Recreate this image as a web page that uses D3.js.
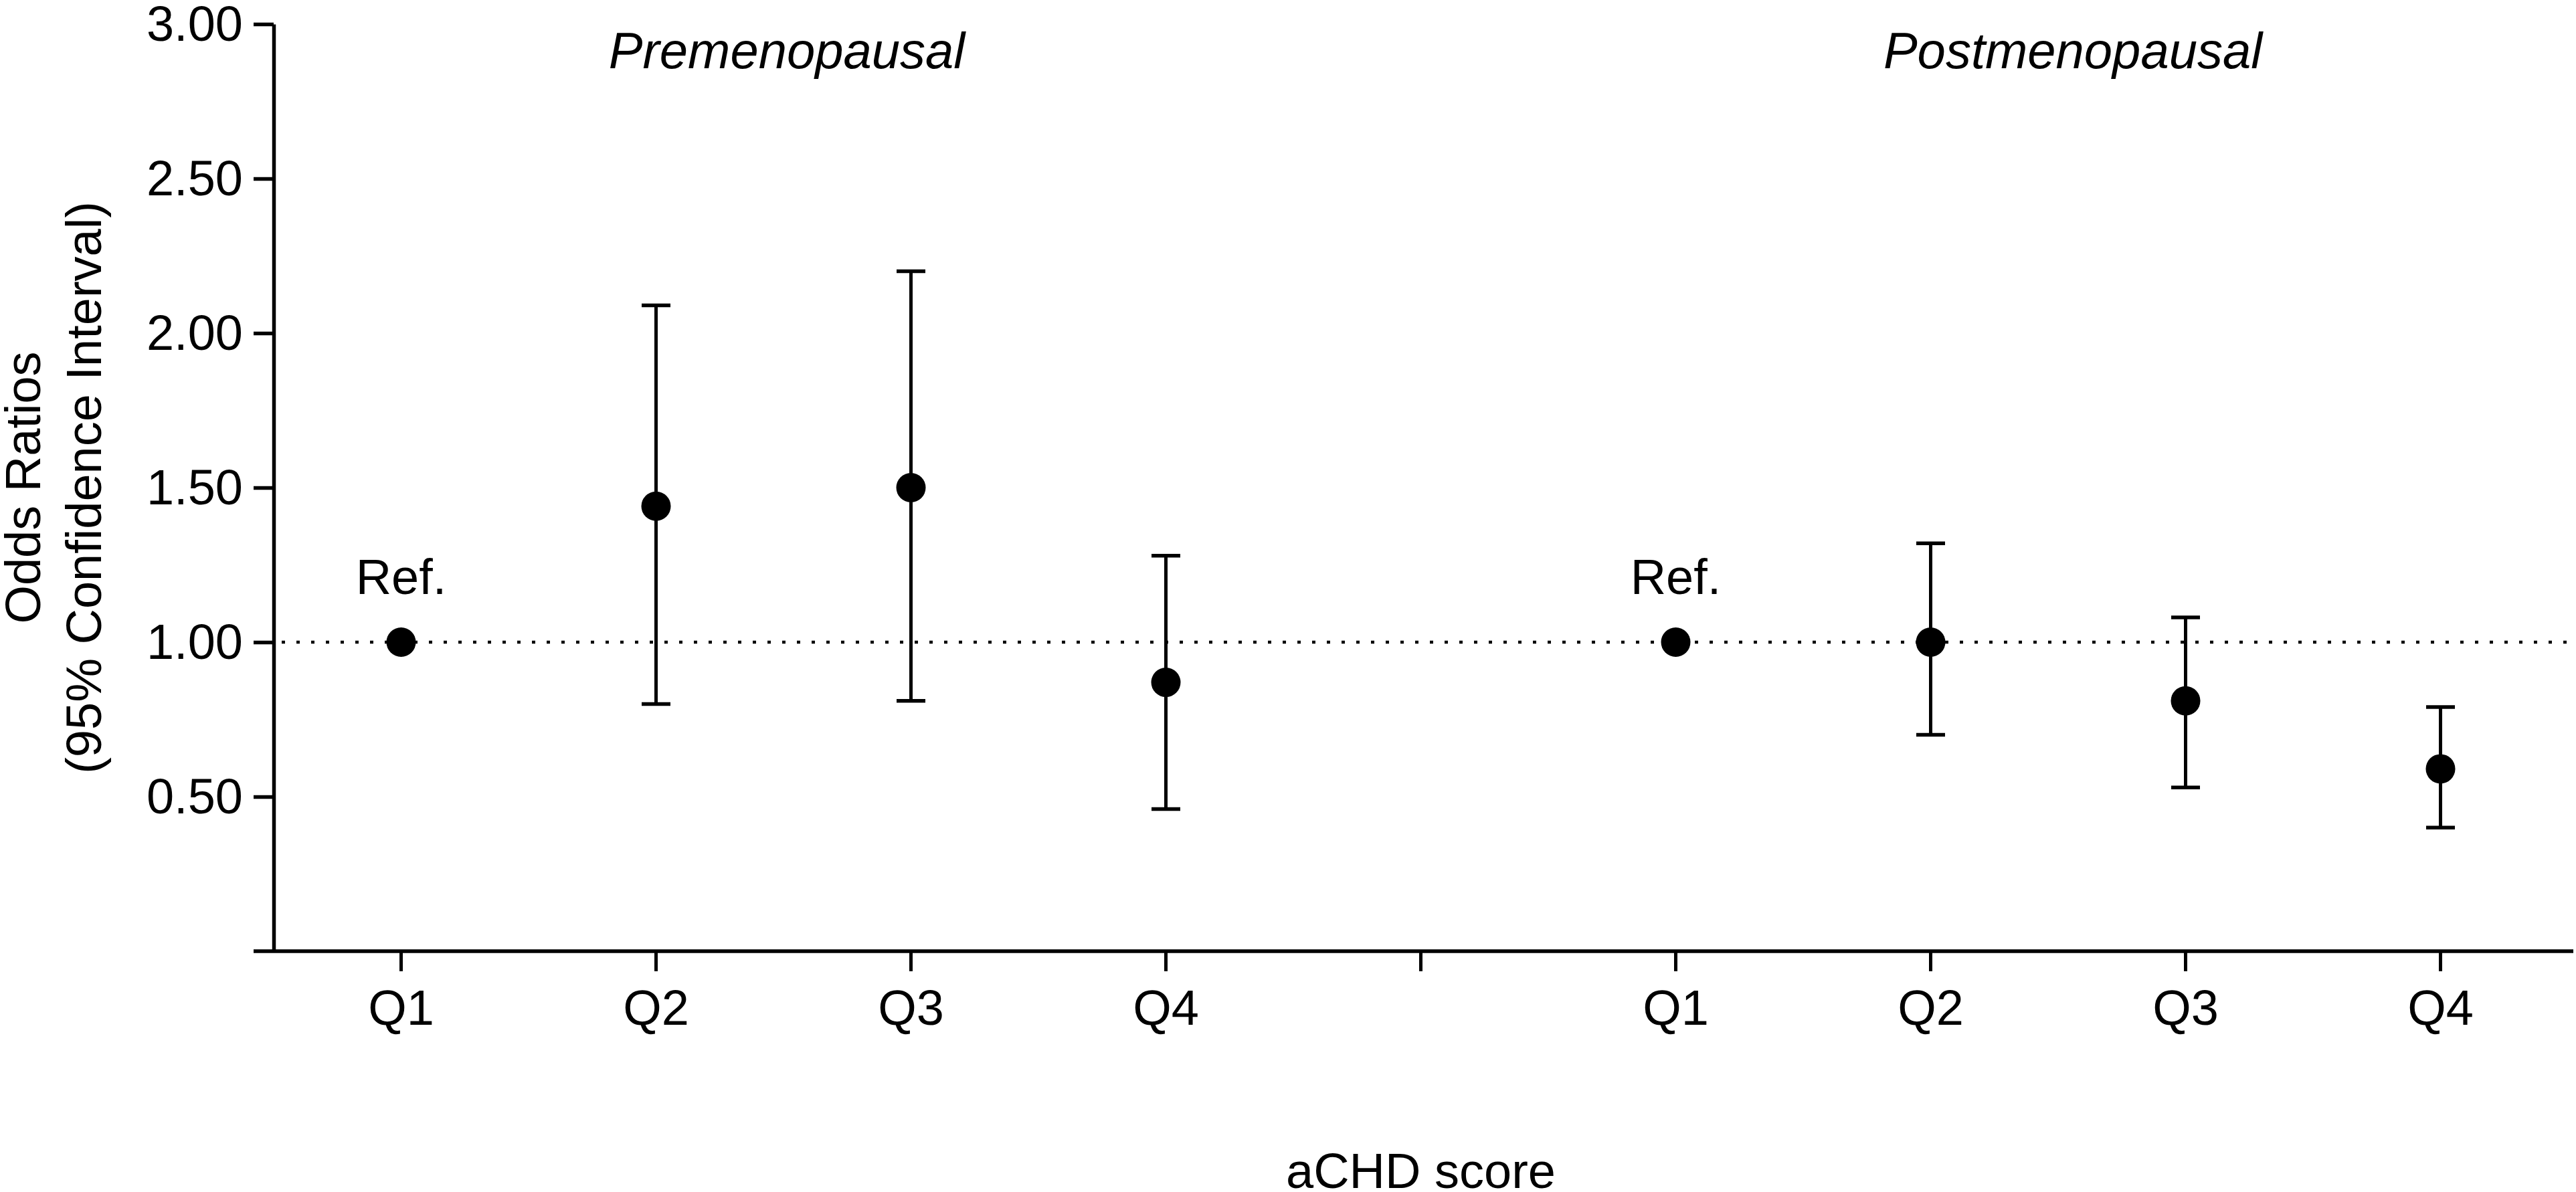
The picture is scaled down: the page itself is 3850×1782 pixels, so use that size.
<!DOCTYPE html>
<html>
<head>
<meta charset="utf-8">
<script src="https://cdn.jsdelivr.net/npm/d3@7"></script>
<style>
  body { margin: 0; background: #fff; }
  text { font-family: "Liberation Sans", Arial, sans-serif; fill: #000; }
</style>
</head>
<body>
<svg width="3850" height="1782"></svg>
<script>
var svg = d3.select("svg"),
    width = +svg.attr("width"),
    height = +svg.attr("height");

// data
var groups = ["Premenopausal", "Postmenopausal"];
var quartiles = ["Q1", "Q2", "Q3", "Q4"];
var preOR   = [1.00, 1.44, 1.50, 0.87];
var preLow  = [null, 0.80, 0.81, 0.46];
var preHigh = [null, 2.09, 2.20, 1.28];
var postOR   = [1.00, 1.00, 0.81, 0.59];
var postLow  = [null, 0.70, 0.53, 0.40];
var postHigh = [null, 1.32, 1.08, 0.79];
var yTicks = [0.5, 1.0, 1.5, 2.0, 2.5, 3.0];
var refValue = 1.0;

var points = [];
quartiles.forEach((q, i) => points.push({ key: "pre-" + q, label: q, or: preOR[i], lo: preLow[i], hi: preHigh[i] }));
quartiles.forEach((q, i) => points.push({ key: "post-" + q, label: q, or: postOR[i], lo: postLow[i], hi: postHigh[i] }));

// slots: 4 pre quartiles, an empty gap, 4 post quartiles
var slots = quartiles.map(q => "pre-" + q).concat(["gap"], quartiles.map(q => "post-" + q));

var x = d3.scaleBand()
    .domain(slots)
    .range([409, 3838])
    .padding(0);

var y = d3.scaleLinear()
    .domain([0, 3])
    .range([1422, 36]);

var cx = k => x(k) + x.bandwidth() / 2;
var fontSize = 74;

// y axis
var yAxis = svg.append("g")
    .attr("transform", `translate(${x.range()[0]},0)`)
    .call(d3.axisLeft(y)
        .tickValues(yTicks)
        .tickFormat(d3.format(".2f"))
        .tickSize(30)
        .tickSizeOuter(0)
        .tickPadding(16));
yAxis.select(".domain").attr("stroke-width", 5.5);
yAxis.selectAll(".tick line").attr("stroke-width", 5.5);
yAxis.selectAll(".tick text")
    .style("font-size", fontSize + "px")
    .attr("dy", "0.33em");

// x axis
var xAxis = svg.append("g")
    .attr("transform", `translate(0,${y(0)})`)
    .call(d3.axisBottom(x)
        .tickSize(30)
        .tickSizeOuter(0)
        .tickFormat(k => k == "gap" ? "" : k.split("-")[1]));
xAxis.select(".domain").remove();
xAxis.append("line")
    .attr("x1", x.range()[0] - 30)
    .attr("x2", width - 4)
    .attr("stroke", "#000")
    .attr("stroke-width", 5.5);
xAxis.selectAll(".tick line").attr("stroke-width", 5);
xAxis.selectAll(".tick text")
    .style("font-size", fontSize + "px")
    .attr("y", 110)
    .attr("dy", 0);

// reference line at OR = 1
svg.append("line")
    .attr("x1", x.range()[0] + 12)
    .attr("x2", width - 4)
    .attr("y1", y(refValue))
    .attr("y2", y(refValue))
    .attr("stroke", "#000")
    .attr("stroke-width", 4.5)
    .attr("stroke-dasharray", "5 17");

// error bars
var bars = svg.append("g").selectAll("g")
    .data(points.filter(d => d.lo != null))
    .enter().append("g")
    .attr("stroke", "#000");

bars.append("line")
    .attr("x1", d => cx(d.key))
    .attr("x2", d => cx(d.key))
    .attr("y1", d => y(d.lo))
    .attr("y2", d => y(d.hi))
    .attr("stroke-width", 5);

["lo", "hi"].forEach(end => {
    bars.append("line")
        .attr("x1", d => cx(d.key) - 21.5)
        .attr("x2", d => cx(d.key) + 21.5)
        .attr("y1", d => y(d[end]))
        .attr("y2", d => y(d[end]))
        .attr("stroke-width", 5.5);
});

// points
svg.append("g").selectAll("circle")
    .data(points)
    .enter().append("circle")
    .attr("cx", d => cx(d.key))
    .attr("cy", d => y(d.or))
    .attr("r", 22)
    .attr("fill", "#000");

// "Ref." labels over the reference categories
svg.append("g").selectAll("text")
    .data(points.filter(d => d.lo == null))
    .enter().append("text")
    .attr("x", d => cx(d.key))
    .attr("y", d => y(d.or) - 72)
    .attr("text-anchor", "middle")
    .style("font-size", fontSize + "px")
    .text("Ref.");

// group titles
svg.append("g").selectAll("text")
    .data(groups)
    .enter().append("text")
    .attr("x", (d, i) => {
        var pre = i == 0 ? "pre-" : "post-";
        return (cx(pre + "Q2") + cx(pre + "Q3")) / 2 + (i == 0 ? 5 : 22);
    })
    .attr("y", 102)
    .attr("text-anchor", "middle")
    .style("font-size", "76px")
    .style("font-style", "italic")
    .text(d => d);

// axis titles
svg.append("text")
    .attr("x", cx("gap"))
    .attr("y", 1776)
    .attr("text-anchor", "middle")
    .style("font-size", fontSize + "px")
    .text("aCHD score");

var yTitle = svg.append("g")
    .attr("transform", `translate(0,${(y.range()[0] + y.range()[1]) / 2}) rotate(-90)`);
yTitle.append("text")
    .attr("x", 0)
    .attr("y", 60)
    .attr("text-anchor", "middle")
    .style("font-size", fontSize + "px")
    .text("Odds Ratios");
yTitle.append("text")
    .attr("x", 0)
    .attr("y", 151)
    .attr("text-anchor", "middle")
    .style("font-size", fontSize + "px")
    .text("(95% Confidence Interval)");
</script>
</body>
</html>
